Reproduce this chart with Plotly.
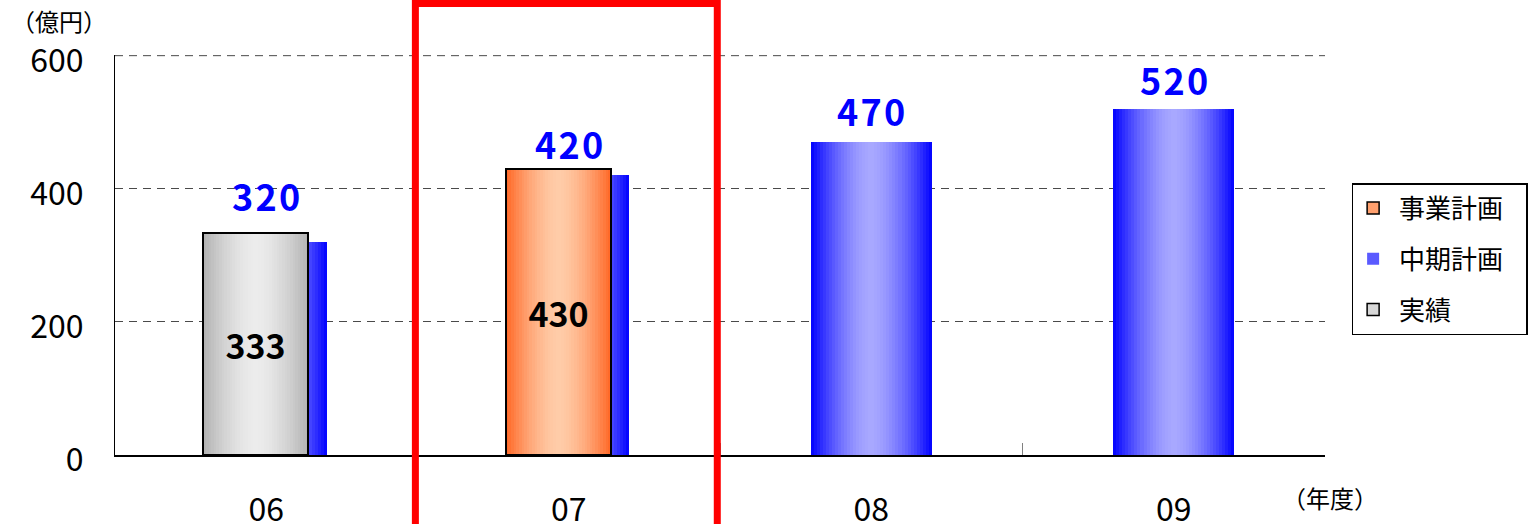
import plotly.graph_objects as go

# --- data -------------------------------------------------------------
years = ["06", "07", "08", "09"]
mid_term_plan = [320, 420, 470, 520]        # 中期計画
business_plan = [None, 430, None, None]     # 事業計画
actual = [333, None, None, None]            # 実績
y_ticks = [0, 200, 400, 600]

# --- styling ------------------------------------------------------------
JP = "Noto Sans CJK JP"
N_STRIPS = 40

BLUE_EDGE, BLUE_MID = (0, 0, 255), (168, 168, 255)
GRAY_EDGE, GRAY_MID = (178, 178, 178), (236, 236, 236)
ORNG_EDGE, ORNG_MID = (255, 102, 36), (255, 204, 168)
GRID = dict(color="#4a4a4a", width=1, dash="8px,6px")


def mix(edge, mid, t):
    d = abs(2 * t - 1)
    p = 1 - d ** 1.6
    return "rgb(%d,%d,%d)" % tuple(round(e + (m - e) * p) for e, m in zip(edge, mid))


def gradient_bars(values, width, offset, edge, mid):
    """Horizontal cylinder-like shading made of thin vertical strips."""
    traces = []
    step = width / N_STRIPS
    for i in range(N_STRIPS):
        t = (i + 0.5) / N_STRIPS
        traces.append(go.Bar(
            x=years, y=values, width=step * 1.15 if i < N_STRIPS - 1 else step,
            offset=offset + i * step, base=0,
            marker=dict(color=mix(edge, mid, t), line=dict(width=0)),
            showlegend=False, hoverinfo="skip",
        ))
    return traces


fig = go.Figure()

# plan bars (behind), actual / business plan bars in front
for tr in gradient_bars(mid_term_plan, 0.40, -0.20, BLUE_EDGE, BLUE_MID):
    fig.add_trace(tr)
for tr in gradient_bars(actual, 0.347, -0.208, GRAY_EDGE, GRAY_MID):
    fig.add_trace(tr)
for tr in gradient_bars(business_plan, 0.347, -0.208, ORNG_EDGE, ORNG_MID):
    fig.add_trace(tr)

# outlines with value labels inside
for vals in (actual, business_plan):
    fig.add_trace(go.Bar(
        x=years, y=vals, width=0.347, offset=-0.208,
        marker=dict(color="rgba(0,0,0,0)", line=dict(color="black", width=2)),
        text=[str(v) if v is not None else "" for v in vals],
        textposition="inside", insidetextanchor="middle", textangle=0,
        textfont=dict(family=JP, size=34, color="black", weight="bold"),
        showlegend=False, hoverinfo="skip",
    ))

# legend entries
LEAD, PAD = "\u00a0", "\u00a0" * 3
fig.add_trace(go.Bar(x=[None], y=[None], name=LEAD + "事業計画" + PAD, legendrank=1, legendgroup="a",
                     marker=dict(color="rgb(255,160,110)", line=dict(color="black", width=1.5))))
fig.add_trace(go.Bar(x=[None], y=[None], name=LEAD + "中期計画" + PAD, legendrank=2, legendgroup="b",
                     marker=dict(color="rgb(90,90,255)", line=dict(width=0))))
fig.add_trace(go.Bar(x=[None], y=[None], name=LEAD + "実績", legendrank=3, legendgroup="c",
                     marker=dict(color="rgb(215,215,215)", line=dict(color="black", width=1.5))))

# blue plan values above the bars (category index used as x position)
label_lift = [47, 32, 32, 30]
for idx, (v, lift) in enumerate(zip(mid_term_plan, label_lift)):
    fig.add_annotation(
        x=idx, y=v, xref="x", yref="y", yshift=lift, showarrow=False,
        text="\u200a".join(str(v)),
        font=dict(family=JP, size=36, color="#0000ff", weight="bold"),
    )

# dashed grid line along the top of the value range
fig.add_shape(type="line", xref="paper", x0=0, x1=1, yref="y",
              y0=y_ticks[-1], y1=y_ticks[-1], line=GRID, layer="below")

# unit captions
fig.add_annotation(text="（億円）", xref="paper", yref="paper", x=-0.088, y=1.086,
                   xanchor="left", yanchor="middle", showarrow=False,
                   font=dict(family=JP, size=24, color="black"))
fig.add_annotation(text="（年度）", xref="paper", yref="paper", x=0.963, y=-0.107,
                   xanchor="left", yanchor="middle", showarrow=False,
                   font=dict(family=JP, size=24, color="black"))

# highlight frame around FY07
fig.add_shape(type="rect", xref="x", yref="paper", x0=0.493, x1=1.491,
              y0=-0.3, y1=1.129, line=dict(color="#ff0000", width=7),
              fillcolor="rgba(0,0,0,0)")

fig.update_layout(
    width=1534, height=524,
    margin=dict(l=115, r=209, t=55, b=69, autoexpand=False),
    paper_bgcolor="white", plot_bgcolor="white",
    barmode="overlay", bargap=0,
    showlegend=True,
    legend=dict(
        x=1.022, y=0.68, xanchor="left", yanchor="top",
        bordercolor="black", borderwidth=1.5, bgcolor="white",
        font=dict(family=JP, size=26, color="black"),
        traceorder="grouped", tracegroupgap=14,
    ),
    xaxis=dict(
        type="category", range=[-0.5, 3.5], automargin=False,
        showline=True, linecolor="black", linewidth=1.5,
        ticks="inside", tickson="boundaries", ticklen=12, tickcolor="#808080",
        tickfont=dict(family=JP, size=32, color="black"),
        ticklabelstandoff=26, showgrid=False,
    ),
    yaxis=dict(
        range=[0, 601], tickvals=y_ticks, automargin=False,
        showline=True, linecolor="black", linewidth=1,
        showgrid=True, gridcolor=GRID["color"], gridwidth=1, griddash=GRID["dash"],
        zeroline=False, ticks="",
        tickfont=dict(family=JP, size=32, color="black"),
        ticklabelstandoff=24, ticklabelshift=5,
    ),
)

fig.write_html("out.html")
